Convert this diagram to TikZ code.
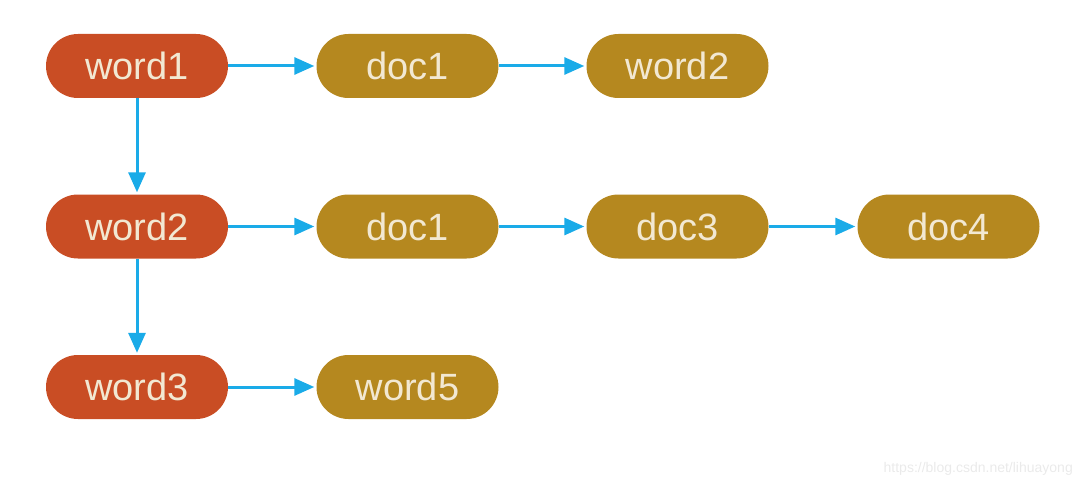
\documentclass[tikz,border=0pt]{standalone}
\usepackage{fontspec}
\setmainfont{Liberation Sans}
\usetikzlibrary{arrows.meta}
\definecolor{wordc}{HTML}{C94D24}
\definecolor{docc}{HTML}{B5881F}
\definecolor{txtc}{HTML}{F2E8D2}
\definecolor{arrc}{HTML}{1AABE8}
\definecolor{wmc}{HTML}{EAEAEA}
\tikzset{
  pill/.style={rectangle, rounded corners=32pt, minimum width=182pt, minimum height=64pt,
    inner sep=0pt, text=txtc, font=\fontsize{38}{42}\selectfont},
  wordnode/.style={pill, fill=wordc},
  docnode/.style={pill, fill=docc},
  link/.style={draw=arrc, line width=3pt, -{Triangle[length=20pt,width=17pt]}, shorten >=2pt}
}
\begin{document}
\begin{tikzpicture}[x=1pt,y=-1pt]
\useasboundingbox (0,0) rectangle (1082,484);
\node[wordnode] (w1) at (137,66) {word1};
\node[docnode] (d1a) at (407.5,66) {doc1};
\node[docnode] (w2b) at (677.5,66) {word2};
\node[wordnode] (w2) at (137,226.5) {word2};
\node[docnode] (d1b) at (407.5,226.5) {doc1};
\node[docnode] (d3) at (677.5,226.5) {doc3};
\node[docnode] (d4) at (948.5,226.5) {doc4};
\node[wordnode] (w3) at (137,387) {word3};
\node[docnode] (w5) at (407.5,387) {word5};
\draw[link] (w1) -- (d1a);
\draw[link] (d1a) -- (w2b);
\draw[link] (w1) -- (w2);
\draw[link] (w2) -- (d1b);
\draw[link] (d1b) -- (d3);
\draw[link] (d3) -- (d4);
\draw[link] (w2) -- (w3);
\draw[link] (w3) -- (w5);
\node[anchor=base east, text=wmc, font=\fontsize{14}{16}\selectfont, inner sep=0pt] (wm) at (1073,472) {https://blog.csdn.net/lihuayong};
\end{tikzpicture}
\end{document}
